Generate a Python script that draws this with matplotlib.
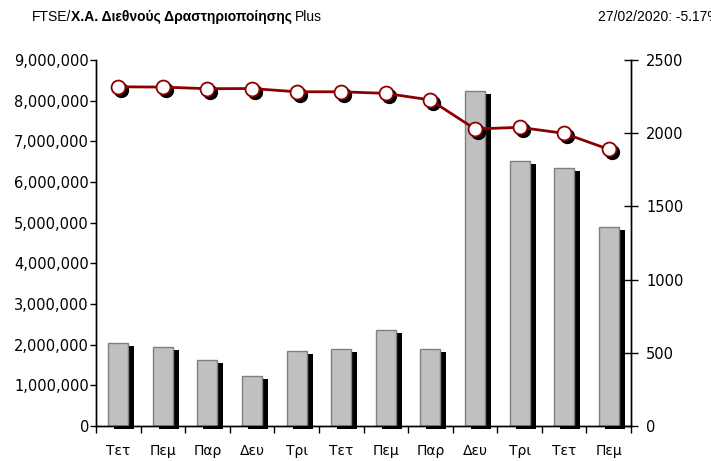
import matplotlib
matplotlib.use("Agg")
import matplotlib.pyplot as plt
import matplotlib.transforms as mtransforms
from matplotlib.ticker import FuncFormatter

days = ["Τετ", "Πεμ", "Παρ", "Δευ", "Τρι", "Τετ", "Πεμ", "Παρ", "Δευ", "Τρι", "Τετ", "Πεμ"]
volume = [2050000, 1935000, 1615000, 1220000, 1850000, 1885000,
          2360000, 1885000, 8245000, 6525000, 6335000, 4900000]
index_close = [2317, 2315, 2304, 2305, 2283, 2283, 2272, 2227, 2029, 2040, 1999, 1890]

plt.rcParams['font.family'] = ['DejaVu Sans']
title_font = ['Liberation Sans Narrow', 'Liberation Sans', 'DejaVu Sans']

fig = plt.figure(figsize=(7.11, 4.61), dpi=100)
ax = fig.add_axes([96 / 711, 1 - 426 / 461, (631 - 96) / 711, (426 - 60) / 461])
ax2 = ax.twinx()

x = list(range(len(days)))

# bars with black drop shadow
shadow = mtransforms.ScaledTranslation(6 / 100, -3 / 100, fig.dpi_scale_trans)
ax.bar(x, volume, width=0.45, color="black", transform=ax.transData + shadow,
       clip_on=False, zorder=1)
ax.bar(x, volume, width=0.45, color="#c0c0c0", edgecolor="#808080",
       linewidth=1, zorder=2)

ax.set_xlim(-0.5, len(days) - 0.5)
ax.set_ylim(0, 9000000)
ax.set_yticks(range(0, 9000001, 1000000))
ax.yaxis.set_major_formatter(FuncFormatter(lambda v, p: f"{int(v):,}"))
ax.set_xticks([i + 0.5 for i in range(-1, len(days))])
ax.set_xticklabels([])
ax.set_xticks(x, minor=True)
ax.set_xticklabels(days, minor=True)
ax.tick_params(axis="x", which="major", direction="out", length=5, width=1)
ax.tick_params(axis="x", which="minor", length=0, pad=13, labelsize=10)
ax.tick_params(axis="y", direction="out", length=4, width=1, labelsize=10.5, pad=1)

# index line with shadowed markers
mshadow = mtransforms.ScaledTranslation(3 / 100, -3 / 100, fig.dpi_scale_trans)
ax2.plot(x, index_close, linestyle="none", marker="o", markersize=10,
         color="black", transform=ax2.transData + mshadow, zorder=3)
ax2.plot(x, index_close, color="#8b0000", linewidth=2, marker="o",
         markersize=10, markerfacecolor="white", markeredgecolor="#8b0000",
         markeredgewidth=1.3, zorder=4)
ax2.set_ylim(0, 2500)
ax2.set_yticks(range(0, 2501, 500))
ax2.tick_params(axis="y", direction="inout", length=10, width=1, labelsize=10.5, pad=6)

for a in (ax, ax2):
    a.spines["top"].set_visible(False)
    for s in ("left", "right", "bottom"):
        a.spines[s].set_color("black")
        a.spines[s].set_linewidth(1)
ax.set_zorder(ax2.get_zorder() - 1)
ax.patch.set_visible(False)

# title made of three runs: normal / bold / normal
ty = 1 - 17 / 461
t1 = fig.text(32 / 711, ty, "FTSE/", fontsize=10, va="center", family=title_font)
fig.canvas.draw()
bb = t1.get_window_extent()
t2 = fig.text(bb.x1 / 711, ty, "Χ.Α. Διεθνούς Δραστηριοποίησης", fontsize=10,
              va="center", fontweight="bold", family=title_font)
fig.canvas.draw()
bb2 = t2.get_window_extent()
fig.text(bb2.x1 / 711 + 3 / 711, ty, "Plus", fontsize=10, va="center", family=title_font)
fig.text(598 / 711, ty, "27/02/2020: -5.17%", fontsize=10, va="center", family=title_font)

fig.savefig("out.png", dpi=100)
